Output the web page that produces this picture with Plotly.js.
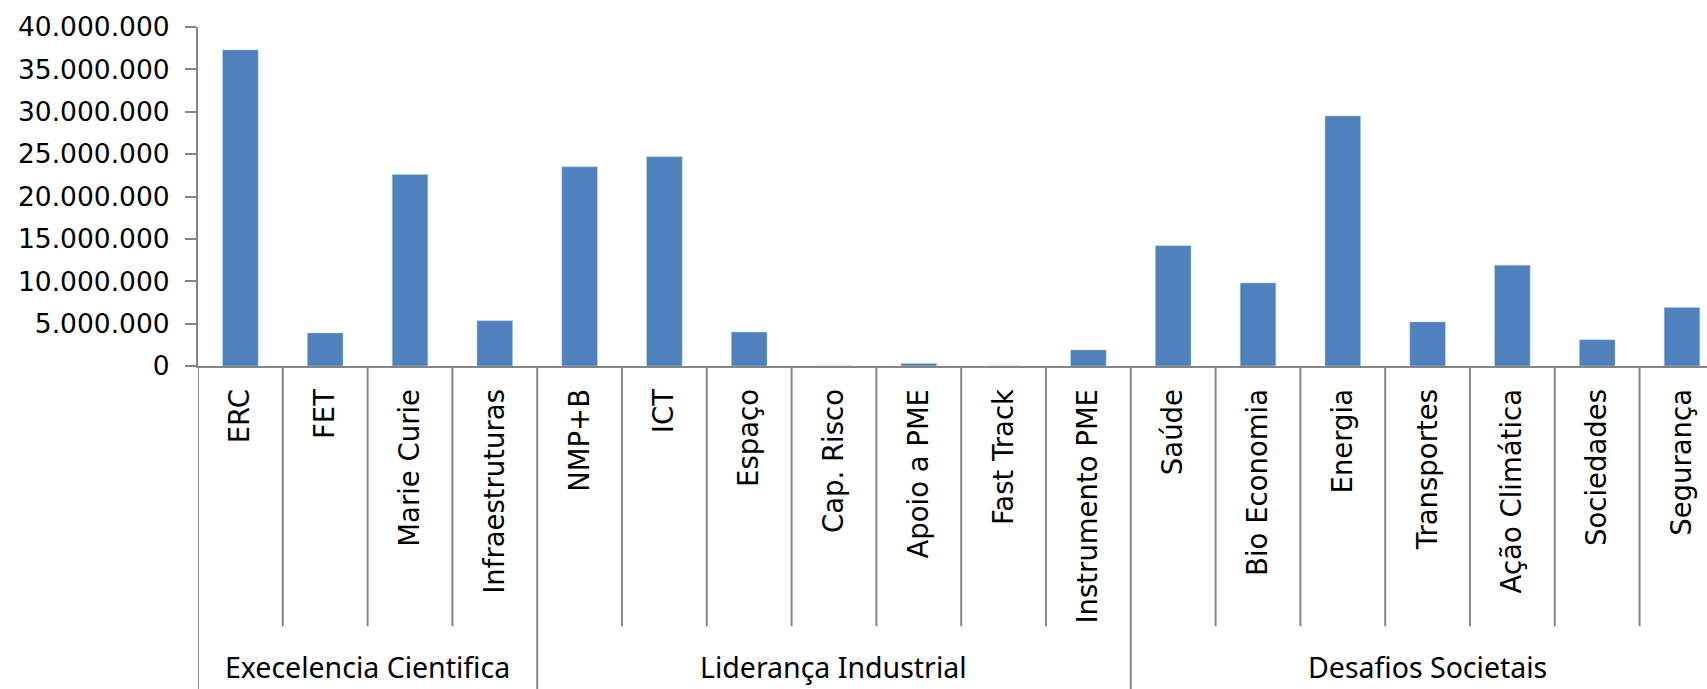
<!DOCTYPE html>
<html>
<head>
<meta charset="utf-8">
<script src="https://cdn.plot.ly/plotly-3.0.1.min.js"></script>
<style>html,body{margin:0;padding:0;background:#fff;} #chart{width:1707px;height:689px;}</style>
</head>
<body>
<div id="chart"></div>
<script>
const categories = ["ERC","FET","Marie Curie","Infraestruturas","NMP+B","ICT","Espaço","Cap. Risco","Apoio a PME","Fast Track","Instrumento PME","Saúde","Bio Economia","Energia","Transportes","Ação Climática","Sociedades","Segurança"];
const values = [37300000,3900000,22600000,5350000,23500000,24700000,4000000,0,300000,0,1900000,14200000,9800000,29500000,5200000,11900000,3100000,6900000];
const groupNames = ["Execelencia Cientifica","Liderança Industrial","Desafios Societais"];
const groupSizes = [4,7,7];
const yTicks = [0,5000000,10000000,15000000,20000000,25000000,30000000,35000000,40000000];

const gray = '#868686';
const shapes = [];
const annotations = [];
const groupBounds = new Set();
let start = 0;
groupSizes.forEach((n, gi) => {
  const end = start + n;
  groupBounds.add(start - 0.5);
  groupBounds.add(end - 0.5);
  annotations.push({
    x: (start + end - 1) / 2, xref: 'x', y: -0.888, yref: 'paper',
    text: groupNames[gi], showarrow: false, xanchor: 'center', yanchor: 'middle',
    font: {family: 'Noto Sans, sans-serif', size: 28.5, color: '#000'}
  });
  start = end;
});
for (let i = 0; i <= categories.length; i++) {
  const b = i - 0.5;
  const isGroup = groupBounds.has(b);
  shapes.push({
    type: 'line', xref: 'x', yref: 'paper', x0: b, x1: b, y0: 0, y1: isGroup ? -1.0 : -0.768,
    line: {color: gray, width: 2}
  });
}

const trace = {
  type: 'bar', x: categories, y: values,
  marker: {color: '#4F81BD', line: {color: '#b9cde5', width: 0.5}},
  hoverinfo: 'none'
};

const layout = {
  width: 1707, height: 689,
  margin: {l: 198, r: 0, t: 27, b: 323, pad: 0},
  paper_bgcolor: '#fff', plot_bgcolor: '#fff',
  separators: ',.',
  showlegend: false,
  bargap: 0.58,
  xaxis: {
    type: 'category', range: [-0.5, 17.295],
    showline: true, linecolor: gray, linewidth: 2,
    ticks: '', showgrid: false, zeroline: false,
    tickangle: -90, ticklabelstandoff: 10,
    tickfont: {family: 'DejaVu Sans, sans-serif', size: 27.5, color: '#000'}
  },
  yaxis: {
    range: [0, 40000000], tickvals: yTicks, tickformat: ',d',
    showline: true, linecolor: gray, linewidth: 2,
    ticks: 'outside', ticklen: 11, tickcolor: gray, tickwidth: 2,
    ticklabelstandoff: 10,
    showgrid: false, zeroline: false,
    tickfont: {family: 'DejaVu Sans, sans-serif', size: 26.5, color: '#000'}
  },
  shapes: shapes,
  annotations: annotations
};

Plotly.newPlot('chart', [trace], layout, {staticPlot: true, displayModeBar: false});
</script>
</body>
</html>
